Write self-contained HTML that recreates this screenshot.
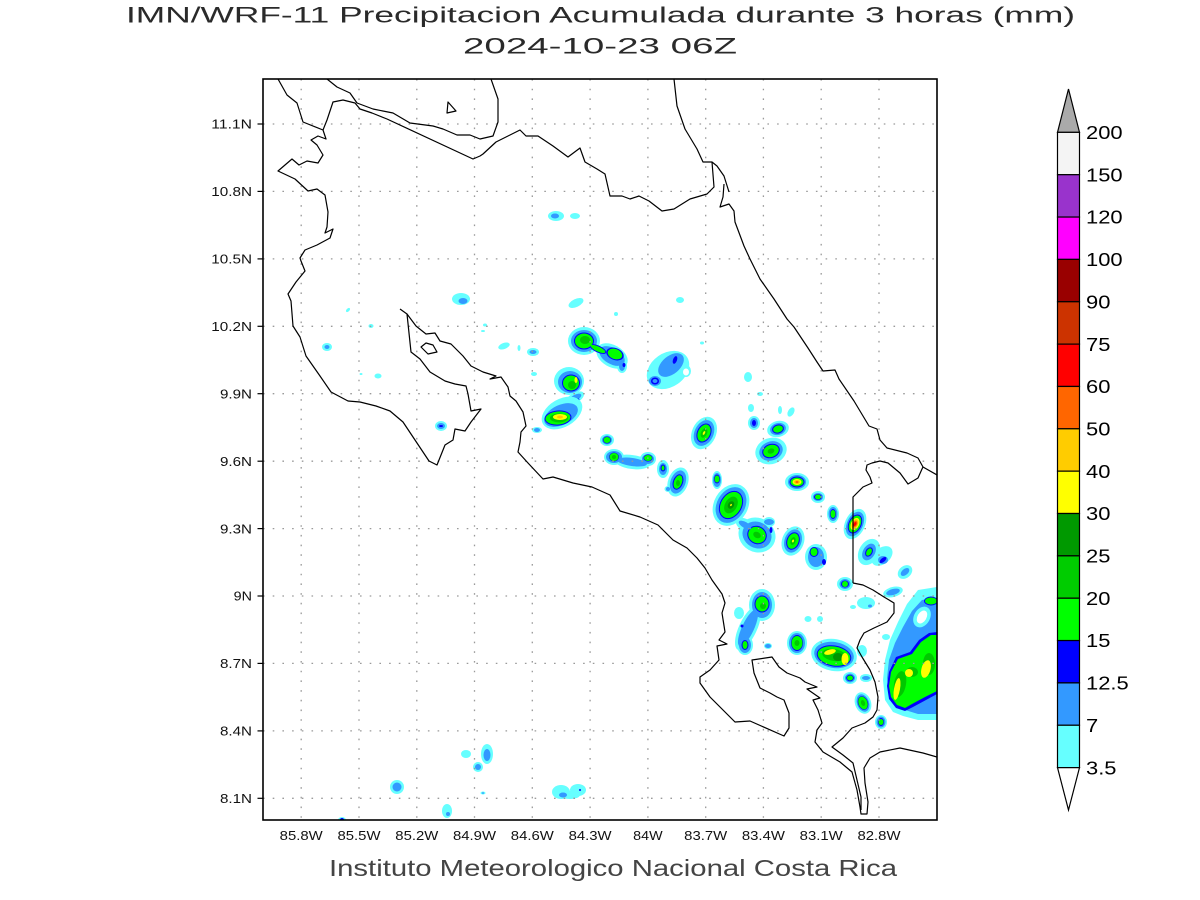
<!DOCTYPE html>
<html><head><meta charset="utf-8"><style>
html,body{margin:0;padding:0;background:#fff;}
svg{display:block;}
text{font-family:"Liberation Sans",sans-serif;}
.c1{fill:#66ffff}.c2{fill:#3399ff}.c3{fill:#0000ff}.c4{fill:#00ff00}.c5{fill:#00c800}.c6{fill:#009600}.c7{fill:#ffff00}.c8{fill:#ffc800}.c9{fill:#ff6400}.c10{fill:#ff0000}.w{fill:#fff}
.cst{fill:none;stroke:#000;stroke-width:1.2;stroke-linejoin:round}
.gr{stroke:#9a9a9a;stroke-width:1.3;stroke-dasharray:1.6 8.1}
.lab{font-size:13px;fill:#111}
.cb{font-size:18.6px;fill:#000}
</style></head><body>
<svg width="1200" height="900" viewBox="0 0 1200 900" xmlns="http://www.w3.org/2000/svg">
<defs><clipPath id="clip"><rect x="263" y="79" width="674" height="741"/></clipPath></defs>
<rect width="1200" height="900" fill="#fff"/>

<text x="126" y="22.5" font-size="22.3" fill="#2a2a2a" textLength="949" lengthAdjust="spacingAndGlyphs">IMN/WRF-11 Precipitacion Acumulada durante 3 horas (mm)</text>
<text x="463" y="53.3" font-size="22.3" fill="#2a2a2a" textLength="274" lengthAdjust="spacingAndGlyphs">2024-10-23 06Z</text>

<g clip-path="url(#clip)">
<!-- small scattered -->
<ellipse class="c1" cx="556" cy="216" rx="8" ry="5"/><ellipse class="c2" cx="555" cy="216" rx="4" ry="2.5"/>
<ellipse class="c1" cx="575" cy="216" rx="5" ry="3"/>
<ellipse class="c1" cx="461" cy="299" rx="9" ry="6"/><ellipse class="c2" cx="463" cy="301" rx="4.5" ry="3"/>
<ellipse class="c1" cx="576" cy="303" rx="8" ry="4" transform="rotate(-25 576 303)"/>
<ellipse class="c1" cx="348" cy="310" rx="2.5" ry="1.5" transform="rotate(-45 348 310)"/>
<ellipse class="c1" cx="371" cy="326" rx="2.5" ry="2"/>
<ellipse class="c1" cx="327" cy="347" rx="5" ry="4"/><ellipse class="c2" cx="327" cy="347" rx="2.5" ry="2"/>
<ellipse class="c1" cx="378" cy="376" rx="3.5" ry="2.5"/><ellipse class="c1" cx="361" cy="374" rx="1.5" ry="1"/>
<ellipse class="c1" cx="441" cy="426" rx="6" ry="5"/><ellipse class="c2" cx="441" cy="426" rx="4" ry="3"/><ellipse class="c3" cx="441" cy="426" rx="2" ry="1"/>
<ellipse class="c1" cx="504" cy="346" rx="6" ry="3" transform="rotate(-20 504 346)"/>
<ellipse class="c1" cx="519" cy="348" rx="1.5" ry="3"/>
<ellipse class="c1" cx="533" cy="352" rx="6" ry="4"/><ellipse class="c2" cx="533" cy="352" rx="3.5" ry="2"/>
<ellipse class="c1" cx="534" cy="374" rx="3" ry="2"/>
<ellipse class="c1" cx="616" cy="314" rx="2" ry="2"/>
<ellipse class="c1" cx="680" cy="300" rx="4" ry="3"/>
<ellipse class="c1" cx="485" cy="325" rx="2" ry="1.5"/><ellipse class="c1" cx="483" cy="331" rx="2" ry="1"/>
<ellipse class="c1" cx="702" cy="343" rx="2" ry="1.5"/>

<!-- A -->
<ellipse class="c1" cx="584" cy="341" rx="16" ry="14"/>
<ellipse class="c1" cx="612" cy="356" rx="17" ry="11" transform="rotate(30 612 356)"/>
<ellipse class="c1" cx="622" cy="366" rx="5" ry="7"/>
<ellipse class="c2" cx="584" cy="341" rx="13" ry="11"/>
<ellipse class="c2" cx="612" cy="356" rx="14" ry="8" transform="rotate(30 612 356)"/>
<ellipse class="c2" cx="622" cy="366" rx="3" ry="5"/>
<ellipse class="c3" cx="584" cy="341" rx="10" ry="8.5"/>
<ellipse class="c3" cx="598" cy="349" rx="9" ry="3.5" transform="rotate(25 598 349)"/>
<ellipse class="c3" cx="615" cy="354" rx="9" ry="6" transform="rotate(20 615 354)"/>
<ellipse class="c3" cx="624" cy="365" rx="1.5" ry="2"/>
<ellipse class="c4" cx="584" cy="341" rx="9" ry="7.5"/>
<ellipse class="c4" cx="598" cy="349" rx="8" ry="2.5" transform="rotate(25 598 349)"/>
<ellipse class="c4" cx="615" cy="354" rx="7.5" ry="5" transform="rotate(20 615 354)"/>
<ellipse class="c5" cx="585" cy="340" rx="5" ry="4"/>

<!-- B -->
<ellipse class="c1" cx="569" cy="381" rx="15" ry="14"/>
<ellipse class="c1" cx="575" cy="398" rx="10" ry="5" transform="rotate(-30 575 398)"/>
<ellipse class="c2" cx="570" cy="382" rx="12" ry="11"/>
<ellipse class="c2" cx="575" cy="398" rx="7" ry="3" transform="rotate(-30 575 398)"/>
<ellipse class="c3" cx="571" cy="383" rx="9" ry="8.5"/><ellipse class="c3" cx="578" cy="400" rx="1.5" ry="1.5"/>
<ellipse class="c4" cx="571" cy="383" rx="8" ry="7.5"/>
<ellipse class="c5" cx="572" cy="385" rx="4" ry="4"/>
<ellipse class="c7" cx="576" cy="380" rx="1.5" ry="3"/>

<!-- C -->
<ellipse class="c1" cx="562" cy="413" rx="22" ry="14" transform="rotate(-30 562 413)"/>
<ellipse class="c1" cx="537" cy="430" rx="5" ry="3"/>
<ellipse class="c2" cx="561" cy="415" rx="18" ry="10" transform="rotate(-25 561 415)"/>
<ellipse class="c2" cx="537" cy="430" rx="3" ry="2"/>
<ellipse class="c3" cx="558" cy="418" rx="13.5" ry="7.5" transform="rotate(-5 558 418)"/>
<ellipse class="c4" cx="558" cy="418" rx="12.5" ry="6.5" transform="rotate(-5 558 418)"/>
<ellipse class="c5" cx="559" cy="418" rx="9" ry="4.5"/>
<ellipse class="c7" cx="560" cy="417" rx="7" ry="3"/>
<ellipse class="c8" cx="560" cy="417" rx="3" ry="1.5"/>

<!-- D -->
<ellipse class="c1" cx="668" cy="370" rx="23" ry="17" transform="rotate(-35 668 370)"/>
<ellipse class="c2" cx="671" cy="365" rx="15" ry="9" transform="rotate(-40 671 365)"/>
<ellipse class="c1" cx="686" cy="371" rx="5" ry="6"/>
<ellipse class="w" cx="686" cy="372" rx="3" ry="3.5"/>
<ellipse class="c3" cx="675" cy="360" rx="2" ry="4" transform="rotate(20 675 360)"/>
<ellipse class="c2" cx="655" cy="381" rx="6" ry="5"/>
<ellipse class="c3" cx="655" cy="381" rx="4" ry="3.5"/>
<ellipse class="c2" cx="655" cy="381" rx="2.5" ry="2"/>

<!-- E -->
<g transform="translate(704 433) rotate(25)">
<ellipse class="c1" rx="12" ry="17"/><ellipse class="c2" rx="9.5" ry="13.5"/><ellipse class="c3" rx="7" ry="10"/><ellipse class="c4" rx="6" ry="9"/><ellipse class="c5" rx="3" ry="5"/><ellipse class="c7" rx="1" ry="2"/>
</g>

<!-- F chain -->
<ellipse class="c1" cx="607" cy="440" rx="7" ry="6"/>
<ellipse class="c1" cx="614" cy="457" rx="10" ry="8"/>
<ellipse class="c1" cx="632" cy="462" rx="18" ry="7" transform="rotate(8 632 462)"/>
<ellipse class="c1" cx="648" cy="459" rx="8" ry="7"/>
<ellipse class="c1" cx="663" cy="469" rx="6" ry="9"/>
<ellipse class="c1" cx="678" cy="482" rx="10" ry="15" transform="rotate(20 678 482)"/>
<ellipse class="c1" cx="668" cy="489" rx="3.5" ry="3"/>
<ellipse class="c2" cx="607" cy="440" rx="5" ry="4.5"/>
<ellipse class="c2" cx="614" cy="457" rx="8" ry="6"/>
<ellipse class="c2" cx="632" cy="462" rx="15" ry="4" transform="rotate(8 632 462)"/>
<ellipse class="c2" cx="648" cy="459" rx="6" ry="5"/>
<ellipse class="c2" cx="663" cy="469" rx="4" ry="6"/>
<ellipse class="c2" cx="678" cy="482" rx="7.5" ry="12" transform="rotate(20 678 482)"/>
<ellipse class="c2" cx="668" cy="489" rx="2" ry="2"/>
<ellipse class="c3" cx="607" cy="440" rx="4" ry="3.5"/>
<ellipse class="c3" cx="614" cy="457" rx="5" ry="4.5"/>
<ellipse class="c3" cx="648" cy="458" rx="4.5" ry="3.5"/>
<ellipse class="c3" cx="663" cy="468" rx="2.5" ry="3.5"/>
<ellipse class="c3" cx="678" cy="482" rx="5" ry="8" transform="rotate(20 678 482)"/>
<ellipse class="c4" cx="607" cy="440" rx="3.5" ry="3"/>
<ellipse class="c4" cx="614" cy="457" rx="4.5" ry="4"/>
<ellipse class="c4" cx="648" cy="458" rx="4" ry="3"/>
<ellipse class="c4" cx="663" cy="468" rx="1.5" ry="2.5"/>
<ellipse class="c4" cx="678" cy="482" rx="4" ry="7" transform="rotate(20 678 482)"/>
<ellipse class="c5" cx="614" cy="457" rx="2" ry="2"/><ellipse class="c5" cx="678" cy="483" rx="2" ry="3"/>

<!-- G -->
<ellipse class="c1" cx="717" cy="480" rx="5" ry="9"/><ellipse class="c2" cx="717" cy="480" rx="4" ry="7"/><ellipse class="c3" cx="717" cy="479" rx="3" ry="4.5"/><ellipse class="c4" cx="717" cy="479" rx="2.5" ry="3.5"/>
<ellipse class="c1" cx="745" cy="525" rx="10" ry="6" transform="rotate(30 745 525)"/>
<g transform="translate(731 505) rotate(30)">
<ellipse class="c1" rx="17" ry="22"/><ellipse class="c2" rx="14" ry="19"/><ellipse class="c3" rx="11" ry="15"/><ellipse class="c4" rx="10" ry="14"/><ellipse class="c5" rx="6" ry="9"/><ellipse class="c6" rx="3" ry="4"/><ellipse class="c7" rx="0.8" ry="1.2"/>
</g>
<ellipse class="c1" cx="769" cy="522" rx="6" ry="5"/>
<g transform="translate(757 535) rotate(30)">
<ellipse class="c1" rx="19" ry="17"/><ellipse class="c2" rx="15" ry="13"/><ellipse class="c3" rx="10" ry="9"/><ellipse class="c4" rx="9" ry="8"/><ellipse class="c5" rx="4" ry="3"/>
</g>
<ellipse class="c2" cx="769" cy="522" rx="5" ry="3"/><ellipse class="c3" cx="771" cy="530" rx="1.5" ry="3"/>
<ellipse class="c2" cx="745" cy="525" rx="7" ry="3" transform="rotate(30 745 525)"/>

<!-- H group -->
<ellipse class="c1" cx="748" cy="377" rx="4" ry="5"/>
<ellipse class="c1" cx="760" cy="394" rx="3" ry="2"/>
<ellipse class="c1" cx="751" cy="408" rx="3" ry="4"/>
<ellipse class="c1" cx="780" cy="410" rx="2" ry="4"/>
<ellipse class="c1" cx="791" cy="412" rx="3" ry="5" transform="rotate(30 791 412)"/>
<ellipse class="c1" cx="754" cy="423" rx="6" ry="7"/><ellipse class="c2" cx="754" cy="423" rx="4" ry="5"/><ellipse class="c3" cx="754" cy="423" rx="2" ry="3"/>
<g transform="translate(778 429) rotate(-15)">
<ellipse class="c1" rx="11" ry="8"/><ellipse class="c2" rx="8" ry="6"/><ellipse class="c3" rx="6" ry="4.5"/><ellipse class="c4" rx="5" ry="3.5"/>
</g>
<g transform="translate(771 451) rotate(-20)">
<ellipse class="c1" rx="16" ry="13"/><ellipse class="c2" rx="12" ry="9.5"/><ellipse class="c3" rx="9" ry="7"/><ellipse class="c4" rx="8" ry="6"/><ellipse class="c5" rx="3.5" ry="2.5"/>
</g>

<!-- I J -->
<g transform="translate(797 482)">
<ellipse class="c1" rx="12" ry="9"/><ellipse class="c2" rx="9" ry="7"/><ellipse class="c3" rx="7.5" ry="5.5"/><ellipse class="c4" rx="6.5" ry="4.5"/><ellipse class="c7" rx="4.5" ry="3"/><ellipse class="c8" rx="3" ry="2"/><ellipse class="c9" rx="1.5" ry="1"/>
</g>
<g transform="translate(818 497)">
<ellipse class="c1" rx="7" ry="6"/><ellipse class="c2" rx="5" ry="4"/><ellipse class="c3" rx="4" ry="3"/><ellipse class="c4" rx="3" ry="2.5"/>
</g>
<!-- K L M -->
<g transform="translate(793 541) rotate(20)">
<ellipse class="c1" rx="11" ry="15"/><ellipse class="c2" rx="8.5" ry="12"/><ellipse class="c3" rx="6.5" ry="9"/><ellipse class="c4" rx="5.5" ry="8"/><ellipse class="c5" rx="2.5" ry="4"/><ellipse class="c7" rx="1" ry="1.5"/>
</g>
<g transform="translate(816 557)">
<ellipse class="c1" rx="11" ry="13"/><ellipse class="c2" rx="8" ry="10"/><ellipse class="c3" cx="-2" cy="-5" rx="4.5" ry="5"/><ellipse class="c4" cx="-2" cy="-5" rx="3.5" ry="4"/><ellipse class="c3" cx="8" cy="5" rx="2" ry="3"/>
</g>
<g transform="translate(833 514)">
<ellipse class="c1" rx="6" ry="9"/><ellipse class="c2" rx="4.5" ry="7"/><ellipse class="c3" rx="3" ry="5"/><ellipse class="c4" rx="2.5" ry="4"/>
</g>
<!-- N -->
<g transform="translate(855 524) rotate(25)">
<ellipse class="c1" rx="10" ry="16"/><ellipse class="c2" rx="8" ry="13"/><ellipse class="c3" rx="6.5" ry="10"/><ellipse class="c4" rx="5.5" ry="9"/><ellipse class="c7" rx="4" ry="6.5"/><ellipse class="c8" rx="3" ry="5"/><ellipse class="c9" rx="2.2" ry="3.5"/><ellipse class="c10" rx="1.3" ry="2"/>
</g>
<!-- O P Q R S T -->
<ellipse class="c1" cx="882" cy="556" rx="12" ry="8" transform="rotate(-40 882 556)"/>
<g transform="translate(869 552) rotate(30)">
<ellipse class="c1" rx="10" ry="14"/><ellipse class="c2" rx="6" ry="9"/><ellipse class="c3" rx="3.5" ry="5"/><ellipse class="c4" rx="2.5" ry="4"/>
</g>
<ellipse class="c2" cx="883" cy="560" rx="5" ry="4"/><ellipse class="c3" cx="883" cy="560" rx="4" ry="2" transform="rotate(-40 883 560)"/>
<ellipse class="c1" cx="905" cy="572" rx="8" ry="6" transform="rotate(-40 905 572)"/><ellipse class="c2" cx="905" cy="572" rx="5" ry="3" transform="rotate(-40 905 572)"/>
<ellipse class="c1" cx="893" cy="592" rx="10" ry="5" transform="rotate(-15 893 592)"/><ellipse class="c2" cx="893" cy="592" rx="7" ry="3" transform="rotate(-15 893 592)"/>
<g transform="translate(845 584)">
<ellipse class="c1" rx="8" ry="7"/><ellipse class="c2" rx="5.5" ry="5"/><ellipse class="c3" rx="4" ry="3.5"/><ellipse class="c4" rx="3" ry="3"/>
</g>
<ellipse class="c1" cx="866" cy="603" rx="9" ry="6"/><ellipse class="c1" cx="853" cy="607" rx="3" ry="2"/><ellipse class="c2" cx="870" cy="606" rx="2" ry="1.5"/>
<ellipse class="c1" cx="886" cy="637" rx="4" ry="3"/>
<ellipse class="c1" cx="808" cy="619" rx="3.5" ry="3"/><ellipse class="c1" cx="820" cy="619" rx="3" ry="3"/>

<!-- V cluster -->
<ellipse class="c1" cx="762" cy="605" rx="13" ry="16"/>
<ellipse class="c1" cx="748" cy="628" rx="24" ry="9" transform="rotate(-65 748 628)"/>
<ellipse class="c1" cx="745" cy="645" rx="8" ry="10"/>
<ellipse class="c1" cx="739" cy="613" rx="5" ry="6"/>
<ellipse class="c1" cx="768" cy="646" rx="4" ry="3"/>
<ellipse class="c2" cx="762" cy="605" rx="10" ry="13"/>
<ellipse class="c2" cx="748" cy="628" rx="20" ry="6" transform="rotate(-65 748 628)"/>
<ellipse class="c2" cx="745" cy="645" rx="6" ry="8"/>
<ellipse class="c2" cx="768" cy="646" rx="3" ry="2"/>
<ellipse class="c3" cx="762" cy="604" rx="7.5" ry="8.5"/><ellipse class="c3" cx="745" cy="645" rx="3.5" ry="5"/><ellipse class="c3" cx="742" cy="626" rx="1.5" ry="1.5"/>
<ellipse class="c4" cx="762" cy="604" rx="6.5" ry="7.5"/><ellipse class="c4" cx="745" cy="645" rx="2.5" ry="4"/>
<ellipse class="c5" cx="763" cy="606" rx="3" ry="3"/>

<!-- W main -->
<ellipse class="c1" cx="834" cy="655" rx="23" ry="16" transform="rotate(10 834 655)"/>
<ellipse class="c1" cx="850" cy="678" rx="7" ry="6"/><ellipse class="c1" cx="866" cy="678" rx="6" ry="4"/><ellipse class="c1" cx="862" cy="651" rx="5" ry="6"/>
<ellipse class="c2" cx="834" cy="655" rx="20" ry="13" transform="rotate(10 834 655)"/>
<ellipse class="c2" cx="850" cy="678" rx="5" ry="4.5"/><ellipse class="c2" cx="866" cy="678" rx="4" ry="2"/>
<ellipse class="c3" cx="834" cy="656" rx="17.5" ry="10.5" transform="rotate(10 834 656)"/><ellipse class="c3" cx="850" cy="678" rx="3.8" ry="3.2"/>
<ellipse class="c4" cx="834" cy="656" rx="16.5" ry="9.5" transform="rotate(10 834 656)"/><ellipse class="c4" cx="850" cy="678" rx="3" ry="2.5"/>
<ellipse class="c5" cx="834" cy="655" rx="12" ry="6" transform="rotate(10 834 655)"/>
<ellipse class="c6" cx="838" cy="657" rx="5" ry="4"/>
<ellipse class="c7" cx="830" cy="652" rx="6" ry="2.5" transform="rotate(-15 830 652)"/>
<ellipse class="c7" cx="845" cy="659" rx="3.5" ry="6"/>
<g transform="translate(863 703) rotate(-20)">
<ellipse class="c1" rx="8" ry="11"/><ellipse class="c2" rx="6" ry="9"/><ellipse class="c3" rx="5" ry="7"/><ellipse class="c4" rx="4.5" ry="6.5"/><ellipse class="c5" rx="2" ry="3"/>
</g>
<g transform="translate(881 722)">
<ellipse class="c1" rx="6" ry="7"/><ellipse class="c2" rx="4.5" ry="5.5"/><ellipse class="c3" rx="3" ry="4"/><ellipse class="c4" rx="2.5" ry="3"/>
</g>
<g transform="translate(797 643)">
<ellipse class="c1" rx="10" ry="12"/><ellipse class="c2" rx="8" ry="10"/><ellipse class="c3" rx="6" ry="8"/><ellipse class="c4" rx="5.5" ry="7"/><ellipse class="c5" rx="2.5" ry="3"/>
</g>

<!-- right big cluster -->
<path class="c1" d="M918,590 L937,587 L937,720 L918,720 L903,716 L893,712 L885,700 L883,680 L885,660 L890,640 L898,622 L907,604 Z"/>
<path class="c2" d="M922,600 L937,598 L937,714 L918,714 L905,710 L895,705 L889,695 L887,678 L889,660 L895,643 L903,627 L912,611 Z"/>
<ellipse class="c1" cx="922" cy="617" rx="8" ry="11" transform="rotate(30 922 617)"/>
<ellipse class="w" cx="922" cy="617" rx="4.5" ry="7" transform="rotate(30 922 617)"/>
<path class="c3" d="M889,672 L896,657 L910,652 L919,640 L929,633 L937,632 L937,694 L926,700 L913,707 L905,711 L896,708 L889,699 L887,686 Z"/>
<path class="c4" d="M891,672 L898,659 L912,654 L921,642 L931,635 L937,635 L937,691 L925,697 L912,704 L905,708 L897,705 L891,697 L889,686 Z"/>
<ellipse class="c5" cx="900" cy="684" rx="6" ry="13" transform="rotate(10 900 684)"/>
<ellipse class="c5" cx="929" cy="664" rx="6" ry="11"/>
<ellipse class="c5" cx="912" cy="672" rx="6" ry="5"/>
<ellipse class="c7" cx="897" cy="689" rx="3" ry="11" transform="rotate(10 897 689)"/>
<ellipse class="c7" cx="909" cy="673" rx="4" ry="4"/>
<ellipse class="c7" cx="926" cy="669" rx="4.5" ry="9" transform="rotate(15 926 669)"/>
<ellipse class="c3" cx="931" cy="601" rx="7" ry="4.5"/><ellipse class="c4" cx="931" cy="601" rx="6" ry="3.5"/>

<!-- bottom -->
<ellipse class="c1" cx="466" cy="754" rx="5" ry="4"/>
<ellipse class="c1" cx="487" cy="754" rx="6" ry="10"/><ellipse class="c2" cx="487" cy="755" rx="3.5" ry="6"/>
<ellipse class="c1" cx="478" cy="767" rx="5" ry="5"/><ellipse class="c2" cx="478" cy="767" rx="3" ry="3"/>
<ellipse class="c1" cx="483" cy="793" rx="2.5" ry="1.5"/><ellipse class="c2" cx="483" cy="793" rx="1.2" ry="0.8"/>
<ellipse class="c1" cx="397" cy="787" rx="7" ry="7"/><ellipse class="c2" cx="397" cy="787" rx="4.5" ry="4.5"/>
<ellipse class="c1" cx="447" cy="811" rx="5" ry="7"/><ellipse class="c2" cx="448" cy="814" rx="2" ry="2"/>
<ellipse class="c1" cx="342" cy="820" rx="4" ry="3"/><ellipse class="c3" cx="342" cy="820" rx="2" ry="2"/>
<ellipse class="c1" cx="561" cy="792" rx="9" ry="7"/><ellipse class="c1" cx="578" cy="790" rx="8" ry="6"/><ellipse class="c1" cx="570" cy="795" rx="10" ry="4"/>
<ellipse class="c2" cx="563" cy="795" rx="4" ry="2.5"/><ellipse class="c3" cx="580" cy="790" rx="1" ry="1"/>
</g>

<!-- grid -->
<g class="gr">
<line x1="301.2" y1="79" x2="301.2" y2="820"/><line x1="359" y1="79" x2="359" y2="820"/><line x1="416.8" y1="79" x2="416.8" y2="820"/><line x1="474.5" y1="79" x2="474.5" y2="820"/><line x1="532.3" y1="79" x2="532.3" y2="820"/><line x1="590.1" y1="79" x2="590.1" y2="820"/><line x1="647.9" y1="79" x2="647.9" y2="820"/><line x1="705.7" y1="79" x2="705.7" y2="820"/><line x1="763.4" y1="79" x2="763.4" y2="820"/><line x1="821.2" y1="79" x2="821.2" y2="820"/><line x1="879" y1="79" x2="879" y2="820"/>
<line x1="263" y1="124" x2="937" y2="124"/><line x1="263" y1="191.4" x2="937" y2="191.4"/><line x1="263" y1="258.9" x2="937" y2="258.9"/><line x1="263" y1="326.3" x2="937" y2="326.3"/><line x1="263" y1="393.7" x2="937" y2="393.7"/><line x1="263" y1="461.2" x2="937" y2="461.2"/><line x1="263" y1="528.6" x2="937" y2="528.6"/><line x1="263" y1="596" x2="937" y2="596"/><line x1="263" y1="663.4" x2="937" y2="663.4"/><line x1="263" y1="730.9" x2="937" y2="730.9"/><line x1="263" y1="798.3" x2="937" y2="798.3"/>
</g>

<!-- coastlines -->
<g clip-path="url(#clip)">
<polyline class="cst" points="278,79 287,95 297,103 303,122 323,130 326,139 318,136 311,140 317,145 323,155 318,163 307,161 299,165 292,159 278,171 295,179 308,191 317,189 325,195 328,212 327,227 325,233 333,229 330,238 317,245 305,250 300,258 301,261 305,271 296,282 288,294 291,301 293,326 300,337 306,356 320,376 331,392 348,401 360,402 376,406 390,411 403,422 415,440 429,461 437,465 445,445 453,440 455,429 465,431 471,422 481,409 471,411 468,394 466,386 455,384 445,381 430,372 420,359 411,352 407,314 400,309"/>
<polyline class="cst" points="407,314 416,326 426,334 435,333 440,341 451,344 463,356 471,366 483,372 496,376 490,379 501,377 508,387 510,396 516,401 523,412 526,426 521,432 520,442 518,452 528,463 543,479 553,477 573,483 592,487 610,495 620,511 640,517 658,525 673,540 687,548 697,558 705,568 712,580 722,594 725,603 722,613 725,632 719,640 727,644 717,646 719,660 710,670 700,677 700,683 710,697 725,712 735,722 750,721 784,736 789,728 789,713 784,700 777,697 770,693 760,688 754,673 752,660 772,657 779,667 787,673 800,678 805,682 817,687 807,689 820,698 813,700 818,710 822,723 817,730 815,742 823,752 840,762 852,772 857,790 860,807 861,814 867,814 868,802 865,783 864,768 870,758 880,752 900,748 923,753 937,757"/>
<polyline class="cst" points="327,79 337,87 350,93 357,103 373,109 393,113 410,123 433,126 443,129 457,135 470,135 480,139 493,136 498,122 498,99 491,79"/>
<polyline class="cst" points="323,130 327,120 333,102 343,100 355,103 360,109 372,113 387,119 473,159 480,156 483,154 496,142 520,130 526,136 538,136 553,146 568,157 580,148 585,162 597,169 605,174 610,196 622,196 630,199 639,196 649,201 662,211 674,209 690,199 707,194 714,187 712,162"/>
<polyline class="cst" points="674,79 677,106 685,129 697,149 703,162 712,162 717,166 724,176 729,192"/>
<polyline class="cst" points="724,184 723,197 720,207 729,204 734,211 735,222 744,246 750,259 760,279 774,299 787,319 794,327 800,336 808,348 817,362 823,371 835,370 839,379 854,401 869,426 877,429 880,440 887,448 907,453 918,458 923,467 937,475"/>
<polyline class="cst" points="853,583 853,497 863,487 872,483 870,477 866,470 867,465 872,463 880,461 888,463 900,473 908,484 918,478 922,469 923,467"/>
<polyline class="cst" points="853,583 863,585 873,590 884,597 894,603 894,613 887,622 874,628 864,633 860,640 857,648 862,657 870,670 875,682 878,697 877,710 873,717 865,723 852,728 843,738 832,747 843,755 853,763 857,780 861,797 861,810"/>
<polygon class="cst" points="448,102 456,111 447,113"/>
<polygon class="cst" points="421,347 426,343 433,345 437,352 428,354"/>
</g>

<!-- frame & ticks -->
<rect x="263" y="79" width="674" height="741" fill="none" stroke="#000" stroke-width="1.6"/>
<g stroke="#000" stroke-width="1.2">
<line x1="257.5" y1="124" x2="263" y2="124"/><line x1="257.5" y1="191.4" x2="263" y2="191.4"/><line x1="257.5" y1="258.9" x2="263" y2="258.9"/><line x1="257.5" y1="326.3" x2="263" y2="326.3"/><line x1="257.5" y1="393.7" x2="263" y2="393.7"/><line x1="257.5" y1="461.2" x2="263" y2="461.2"/><line x1="257.5" y1="528.6" x2="263" y2="528.6"/><line x1="257.5" y1="596" x2="263" y2="596"/><line x1="257.5" y1="663.4" x2="263" y2="663.4"/><line x1="257.5" y1="730.9" x2="263" y2="730.9"/><line x1="257.5" y1="798.3" x2="263" y2="798.3"/>
</g>

<!-- lat labels -->
<g class="lab" text-anchor="end">
<text x="252" y="128.7" textLength="40.7" lengthAdjust="spacingAndGlyphs">11.1N</text>
<text x="252" y="196.1" textLength="40.7" lengthAdjust="spacingAndGlyphs">10.8N</text>
<text x="252" y="263.6" textLength="40.7" lengthAdjust="spacingAndGlyphs">10.5N</text>
<text x="252" y="331" textLength="40.7" lengthAdjust="spacingAndGlyphs">10.2N</text>
<text x="252" y="398.4" textLength="32" lengthAdjust="spacingAndGlyphs">9.9N</text>
<text x="252" y="465.9" textLength="32" lengthAdjust="spacingAndGlyphs">9.6N</text>
<text x="252" y="533.3" textLength="32" lengthAdjust="spacingAndGlyphs">9.3N</text>
<text x="252" y="600.7" textLength="18.3" lengthAdjust="spacingAndGlyphs">9N</text>
<text x="252" y="668.1" textLength="32" lengthAdjust="spacingAndGlyphs">8.7N</text>
<text x="252" y="735.6" textLength="32" lengthAdjust="spacingAndGlyphs">8.4N</text>
<text x="252" y="803" textLength="32" lengthAdjust="spacingAndGlyphs">8.1N</text>
</g>
<!-- lon labels -->
<g class="lab" text-anchor="middle">
<text x="301.2" y="840" textLength="43" lengthAdjust="spacingAndGlyphs">85.8W</text>
<text x="359" y="840" textLength="43" lengthAdjust="spacingAndGlyphs">85.5W</text>
<text x="416.8" y="840" textLength="43" lengthAdjust="spacingAndGlyphs">85.2W</text>
<text x="474.5" y="840" textLength="43" lengthAdjust="spacingAndGlyphs">84.9W</text>
<text x="532.3" y="840" textLength="43" lengthAdjust="spacingAndGlyphs">84.6W</text>
<text x="590.1" y="840" textLength="43" lengthAdjust="spacingAndGlyphs">84.3W</text>
<text x="647.9" y="840" textLength="29.4" lengthAdjust="spacingAndGlyphs">84W</text>
<text x="705.7" y="840" textLength="43" lengthAdjust="spacingAndGlyphs">83.7W</text>
<text x="763.4" y="840" textLength="43" lengthAdjust="spacingAndGlyphs">83.4W</text>
<text x="821.2" y="840" textLength="43" lengthAdjust="spacingAndGlyphs">83.1W</text>
<text x="879" y="840" textLength="43" lengthAdjust="spacingAndGlyphs">82.8W</text>
</g>

<text x="329" y="876" font-size="23" fill="#444" textLength="568" lengthAdjust="spacingAndGlyphs">Instituto Meteorologico Nacional Costa Rica</text>

<!-- colorbar -->
<g stroke="#000" stroke-width="1.2">
<polygon points="1057.5,132.35 1079.5,132.35 1068.5,89" fill="#aaaaaa"/>
<rect x="1057.5" y="132.35" width="22" height="42.35" fill="#f4f4f4"/>
<rect x="1057.5" y="174.7" width="22" height="42.35" fill="#9933cc"/>
<rect x="1057.5" y="217.05" width="22" height="42.35" fill="#ff00ff"/>
<rect x="1057.5" y="259.4" width="22" height="42.35" fill="#990000"/>
<rect x="1057.5" y="301.75" width="22" height="42.35" fill="#cc3300"/>
<rect x="1057.5" y="344.1" width="22" height="42.35" fill="#ff0000"/>
<rect x="1057.5" y="386.45" width="22" height="42.35" fill="#ff6600"/>
<rect x="1057.5" y="428.8" width="22" height="42.35" fill="#ffcc00"/>
<rect x="1057.5" y="471.15" width="22" height="42.35" fill="#ffff00"/>
<rect x="1057.5" y="513.5" width="22" height="42.35" fill="#009900"/>
<rect x="1057.5" y="555.85" width="22" height="42.35" fill="#00cc00"/>
<rect x="1057.5" y="598.2" width="22" height="42.35" fill="#00ff00"/>
<rect x="1057.5" y="640.55" width="22" height="42.35" fill="#0000ff"/>
<rect x="1057.5" y="682.9" width="22" height="42.35" fill="#3399ff"/>
<rect x="1057.5" y="725.25" width="22" height="42.35" fill="#66ffff"/>
<polygon points="1057.5,767.6 1079.5,767.6 1068.5,810" fill="#ffffff"/>
</g>
<g class="cb">
<text x="1086" y="139" textLength="36.6" lengthAdjust="spacingAndGlyphs">200</text>
<text x="1086" y="181.35" textLength="36.6" lengthAdjust="spacingAndGlyphs">150</text>
<text x="1086" y="223.7" textLength="36.6" lengthAdjust="spacingAndGlyphs">120</text>
<text x="1086" y="266.05" textLength="36.6" lengthAdjust="spacingAndGlyphs">100</text>
<text x="1086" y="308.4" textLength="24.4" lengthAdjust="spacingAndGlyphs">90</text>
<text x="1086" y="350.75" textLength="24.4" lengthAdjust="spacingAndGlyphs">75</text>
<text x="1086" y="393.1" textLength="24.4" lengthAdjust="spacingAndGlyphs">60</text>
<text x="1086" y="435.45" textLength="24.4" lengthAdjust="spacingAndGlyphs">50</text>
<text x="1086" y="477.8" textLength="24.4" lengthAdjust="spacingAndGlyphs">40</text>
<text x="1086" y="520.15" textLength="24.4" lengthAdjust="spacingAndGlyphs">30</text>
<text x="1086" y="562.5" textLength="24.4" lengthAdjust="spacingAndGlyphs">25</text>
<text x="1086" y="604.85" textLength="24.4" lengthAdjust="spacingAndGlyphs">20</text>
<text x="1086" y="647.2" textLength="24.4" lengthAdjust="spacingAndGlyphs">15</text>
<text x="1086" y="689.55" textLength="42.7" lengthAdjust="spacingAndGlyphs">12.5</text>
<text x="1086" y="731.9" textLength="12.2" lengthAdjust="spacingAndGlyphs">7</text>
<text x="1086" y="774.25" textLength="30.5" lengthAdjust="spacingAndGlyphs">3.5</text>
</g>
</svg>
</body></html>
